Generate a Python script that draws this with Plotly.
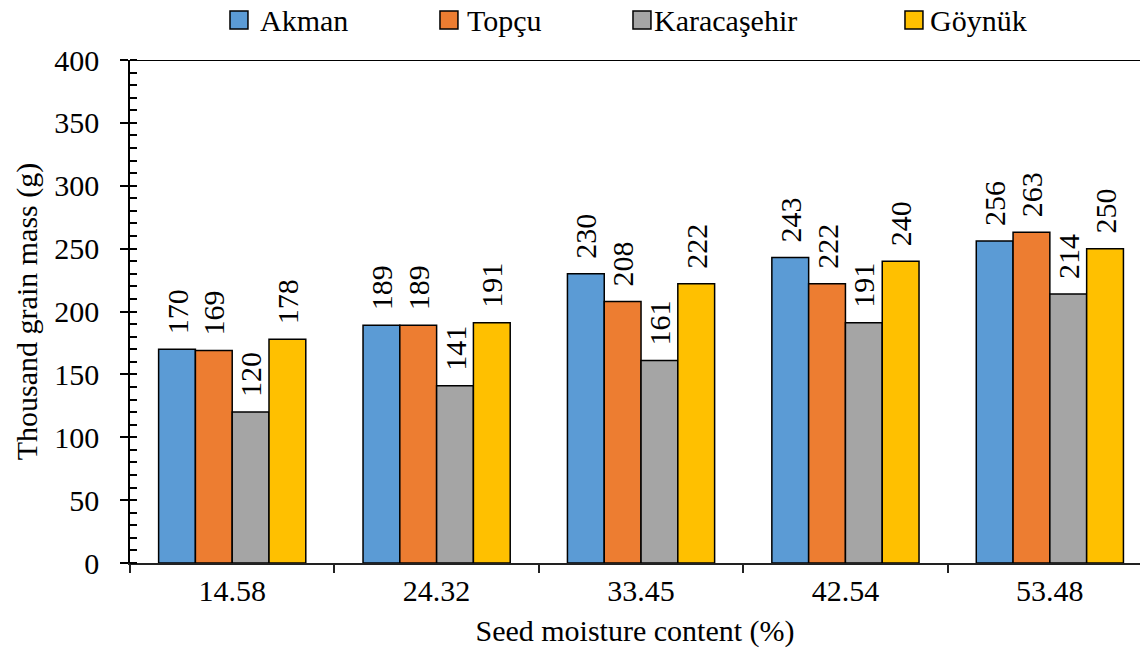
import plotly.graph_objects as go

# Seed moisture content levels (%) and thousand grain mass (g) per variety
moisture = ["14.58", "24.32", "33.45", "42.54", "53.48"]
akman = [170, 189, 230, 243, 256]
topcu = [169, 189, 208, 222, 263]
karacasehir = [120, 141, 161, 191, 214]
goynuk = [178, 191, 222, 240, 250]

names = ["Akman", "Topçu", "Karacaşehir", "Göynük"]
values = [akman, topcu, karacasehir, goynuk]
colors = ["#5B9BD5", "#ED7D31", "#A5A5A5", "#FFC000"]

# legend key layout (paper coordinates): left edge of each swatch and of each label
key_x = [0.0990, 0.3069, 0.4980, 0.7673]
label_x = [0.1267, 0.3317, 0.5168, 0.7901]
KEY_W = 0.0178
KEY_Y0, KEY_Y1, LABEL_Y = 1.0616, 1.0974, 1.0795

FONT = "Liberation Serif, Times New Roman, serif"
TXT = dict(family=FONT, size=30, color="black")

fig = go.Figure()
for name, vals, color in zip(names, values, colors):
    fig.add_trace(go.Bar(
        x=moisture, y=vals, name=name, showlegend=False,
        marker=dict(color=color, line=dict(color="black", width=1.5)),
        text=vals, texttemplate="\u2009\u2009%{text}",
        textposition="outside", textangle=-90, constraintext="none",
        cliponaxis=False,
        textfont=TXT,
    ))

shapes = [dict(type="line", xref="paper", yref="y", x0=-0.0099, x1=1, y0=400, y1=400,
               line=dict(color="black", width=2))]
annotations = []
for name, color, kx, lx in zip(names, colors, key_x, label_x):
    shapes.append(dict(type="rect", xref="paper", yref="paper",
                       x0=kx, x1=kx + KEY_W, y0=KEY_Y0, y1=KEY_Y1,
                       fillcolor=color, line=dict(color="black", width=1.5)))
    annotations.append(dict(text=name, xref="paper", yref="paper", x=lx, y=LABEL_Y,
                            xanchor="left", yanchor="middle", showarrow=False, font=TXT))

fig.update_layout(
    width=1140, height=659,
    margin=dict(l=130, r=0, t=60, b=96, autoexpand=False),
    paper_bgcolor="white", plot_bgcolor="white",
    barmode="group", bargap=0.28, bargroupgap=0,
    showlegend=False,
    xaxis=dict(
        range=[-0.5, 4.441], showline=True, linecolor="#222", linewidth=1.5,
        ticks="outside", tickson="boundaries", ticklen=8, tickwidth=1.5, tickcolor="#222",
        showgrid=False, zeroline=False,
        tickfont=TXT,
        title=dict(text="Seed moisture content (%)", font=TXT, standoff=14),
    ),
    yaxis=dict(
        range=[0, 400], dtick=50, showline=True, linecolor="black", linewidth=1.5,
        ticks="outside", ticklen=8, tickwidth=1.5, tickcolor="black",
        minor=dict(dtick=10, ticks="inside", ticklen=7, tickwidth=1.5, tickcolor="black", showgrid=False),
        showgrid=False, zeroline=False,
        tickfont=TXT, ticksuffix="\u2002",
        title=dict(text="Thousand grain mass (g)", font=TXT, standoff=8),
    ),
    shapes=shapes,
    annotations=annotations,
)

fig.write_html("out.html")
